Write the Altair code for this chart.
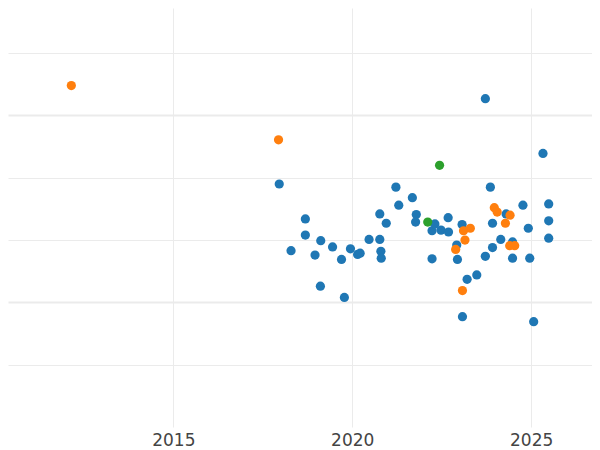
import altair as alt
import pandas as pd

# Series values (year, value)
blue_x = [2017.96, 2018.69, 2018.69, 2018.29, 2018.96, 2019.12, 2019.45, 2019.70, 2019.95, 2020.15,
          2020.22, 2019.11, 2019.78, 2020.47, 2020.77, 2020.77, 2020.80, 2020.81, 2020.95, 2021.22,
          2021.30, 2021.68, 2021.79, 2021.77, 2022.23, 2022.31, 2022.48, 2022.69, 2022.68, 2022.23,
          2022.92, 2022.94, 2023.07, 2023.21, 2023.48, 2023.08, 2023.72, 2023.86, 2023.92, 2023.92,
          2024.15, 2024.30, 2024.48, 2024.48, 2024.77, 2024.92, 2024.96, 2025.07, 2025.33, 2025.49,
          2025.49, 2025.49, 2023.72]
blue_y = [3.90, 3.34, 3.08, 2.83, 2.76, 2.99, 2.89, 2.69, 2.86, 2.77,
          2.79, 2.26, 2.08, 3.01, 3.42, 3.01, 2.82, 2.71, 3.27, 3.85,
          3.56, 3.68, 3.41, 3.29, 3.15, 3.26, 3.16, 3.13, 3.36, 2.70,
          2.92, 2.69, 3.25, 2.37, 2.44, 1.77, 5.27, 3.85, 3.27, 2.88,
          3.01, 3.42, 2.97, 2.71, 3.56, 3.19, 2.71, 1.69, 4.39, 3.58,
          3.31, 3.03, 2.74]

orange_x = [2012.15, 2017.94, 2023.97, 2024.05, 2024.41, 2024.28, 2023.30, 2023.11, 2023.15,
            2022.89, 2024.40, 2024.54, 2023.08]
orange_y = [5.48, 4.61, 3.52, 3.45, 3.40, 3.27, 3.19, 3.15, 3.00,
            2.85, 2.91, 2.91, 2.19]

green_x = [2022.44, 2022.11]
green_y = [4.20, 3.29]

series_names = ["A", "B", "C"]
series_colors = ["#1f77b4", "#ff7f0e", "#2ca02c"]

x_ticks = [2015, 2020, 2025]
y_grid = [1, 2, 3, 4, 5, 6]
y_major = [2, 5]

rows = []
for name, xs, ys in zip(series_names, [blue_x, orange_x, green_x], [blue_y, orange_y, green_y]):
    for xv, yv in zip(xs, ys):
        rows.append({"year": xv, "value": yv, "series": name})
df = pd.DataFrame(rows)
df["order"] = df["series"].map({n: i for i, n in enumerate(series_names)})

major_test = " || ".join(f"datum.value == {v}" for v in y_major)

chart = alt.Chart(df).mark_circle(size=85, opacity=1).encode(
    x=alt.X("year:Q",
            scale=alt.Scale(domain=[2010.38, 2026.70], nice=False, zero=False),
            axis=alt.Axis(values=x_ticks, format="d", title=None, domain=False, ticks=False,
                          labelFontSize=17, labelColor="#444444", labelFont="DejaVu Sans",
                          labelPadding=5, gridColor="#ebebeb", gridWidth=1)),
    y=alt.Y("value:Q",
            scale=alt.Scale(domain=[0, 6.725], nice=False, zero=False),
            axis=alt.Axis(values=y_grid, title=None, labels=False, ticks=False, domain=False,
                          gridColor="#ebebeb",
                          gridWidth={"condition": {"test": major_test, "value": 2.2}, "value": 1})),
    color=alt.Color("series:N", scale=alt.Scale(domain=series_names, range=series_colors), legend=None),
    order=alt.Order("order:Q"),
).properties(
    width=584, height=419, padding=0
).configure_view(stroke=None)

chart.save("out.html", embed_options={"renderer": "svg", "actions": False})
